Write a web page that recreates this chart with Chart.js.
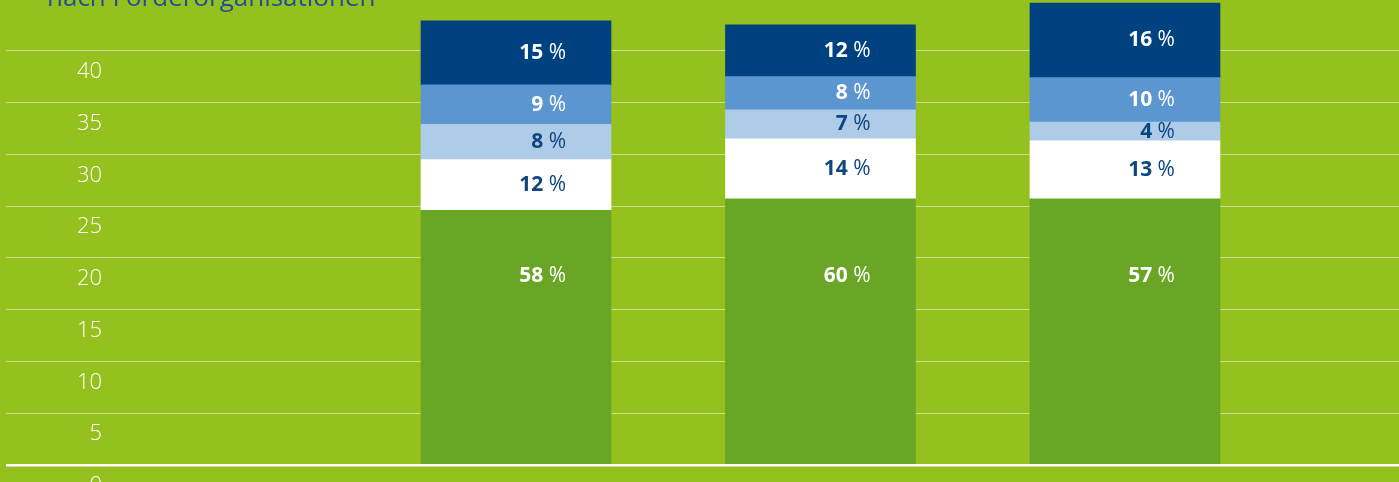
<!DOCTYPE html>
<html>
<head>
<meta charset="utf-8">
<script src="https://cdn.jsdelivr.net/npm/chart.js@4"></script>
<style>
  html, body { margin: 0; padding: 0; overflow: hidden; background: #95c11f; }
  #wrap { position: absolute; left: 0; top: 0; width: 1399px; height: 520px; }
  #title {
    position: absolute; left: 47px; top: -22px; margin: 0;
    font-family: "Open Sans", sans-serif; font-size: 26px; color: #1f4f9a;
    white-space: nowrap; z-index: 2;
  }
</style>
</head>
<body>
<p id="title">nach Förderorganisationen</p>
<div id="wrap"><canvas id="chart"></canvas></div>
<script>
// Kategorien (Beschriftung unten nicht sichtbar)
const categories = ["1", "2", "3"];

// Werte je Förderorganisation, von unten nach oben
const greenValues = [24.6, 25.7, 25.7];
const whiteValues = [4.9, 5.8, 5.6];
const lightBlueValues = [3.4, 2.8, 1.8];
const midBlueValues = [3.8, 3.2, 4.3];
const darkBlueValues = [6.2, 5.0, 7.2];

// Prozentangaben wie im Bild
const greenPct = [58, 60, 57];
const whitePct = [12, 14, 13];
const lightBluePct = [8, 7, 4];
const midBluePct = [9, 8, 10];
const darkBluePct = [15, 12, 16];

const yTicks = [0, 5, 10, 15, 20, 25, 30, 35, 40];

const labelDark = "#0e4682";
const fontFam = '"Open Sans", sans-serif';

const series = [
  { label: "A", values: greenValues, pct: greenPct, color: "#69a625", text: "#ffffff" },
  { label: "B", values: whiteValues, pct: whitePct, color: "#ffffff", text: labelDark },
  { label: "C", values: lightBlueValues, pct: lightBluePct, color: "#aecbe8", text: labelDark },
  { label: "D", values: midBlueValues, pct: midBluePct, color: "#5b96d0", text: "#ffffff" },
  { label: "E", values: darkBlueValues, pct: darkBluePct, color: "#00427f", text: "#ffffff" },
];

// Label im grünen Block sitzt bei festem Wert
const greenLabelAt = 18.2;

const pctLabels = {
  id: "pctLabels",
  afterDatasetsDraw(chart) {
    const ctx = chart.ctx;
    const y = chart.scales.y;
    ctx.save();
    ctx.textBaseline = "middle";
    ctx.textAlign = "right";
    chart.data.datasets.forEach((ds, di) => {
      const meta = chart.getDatasetMeta(di);
      meta.data.forEach((bar, i) => {
        const xr = bar.x + 50;
        let yc = (bar.y + bar.base) / 2;
        if (di === 0) yc = y.getPixelForValue(greenLabelAt);
        ctx.fillStyle = ds.textColor;
        ctx.font = "400 21px " + fontFam;
        ctx.fillText("%", xr, yc);
        const wp = ctx.measureText("%").width;
        const ws = ctx.measureText(" ").width;
        ctx.font = "700 21px " + fontFam;
        ctx.fillText(String(ds.pct[i]), xr - wp - ws, yc);
      });
    });
    ctx.restore();
  }
};

new Chart(document.getElementById("chart"), {
  type: "bar",
  data: {
    datasets: series.map((s) => ({
      label: s.label,
      data: s.values.map((v, i) => ({ x: i + 1, y: v })),
      pct: s.pct,
      textColor: s.text,
      backgroundColor: s.color,
      borderWidth: 0,
      barThickness: 190,
    })),
  },
  options: {
    responsive: true,
    maintainAspectRatio: false,
    animation: false,
    layout: { padding: { left: 6, right: 0, top: 0, bottom: 55 } },
    plugins: { legend: { display: false }, tooltip: { enabled: false } },
    scales: {
      x: {
        type: "linear",
        stacked: true,
        offset: false,
        min: -0.675,
        max: 3.9,
        display: false,
        grid: { offset: false },
        ticks: { callback: (v) => categories[v - 1] || "" },
      },
      y: {
        stacked: true,
        min: 0,
        max: 44.9,
        afterBuildTicks: (scale) => {
          scale.ticks = yTicks.map((v) => ({ value: v }));
        },
        afterFit: (scale) => {
          scale.width = 0;
          scale.paddingTop = 0;
          scale.paddingBottom = 0;
        },
        border: { display: false },
        grid: {
          drawTicks: false,
          color: (c) => (c.tick && c.tick.value === 0 ? "#ffffff" : "rgba(255,255,255,0.5)"),
          lineWidth: (c) => (c.tick && c.tick.value === 0 ? 2.5 : 1),
        },
        ticks: {
          mirror: true,
          crossAlign: "far",
          padding: 71,
          labelOffset: 21,
          color: "#ffffff",
          font: { family: fontFam, size: 22, weight: "300" },
        },
      },
    },
  },
  plugins: [pctLabels],
});
</script>
</body>
</html>
